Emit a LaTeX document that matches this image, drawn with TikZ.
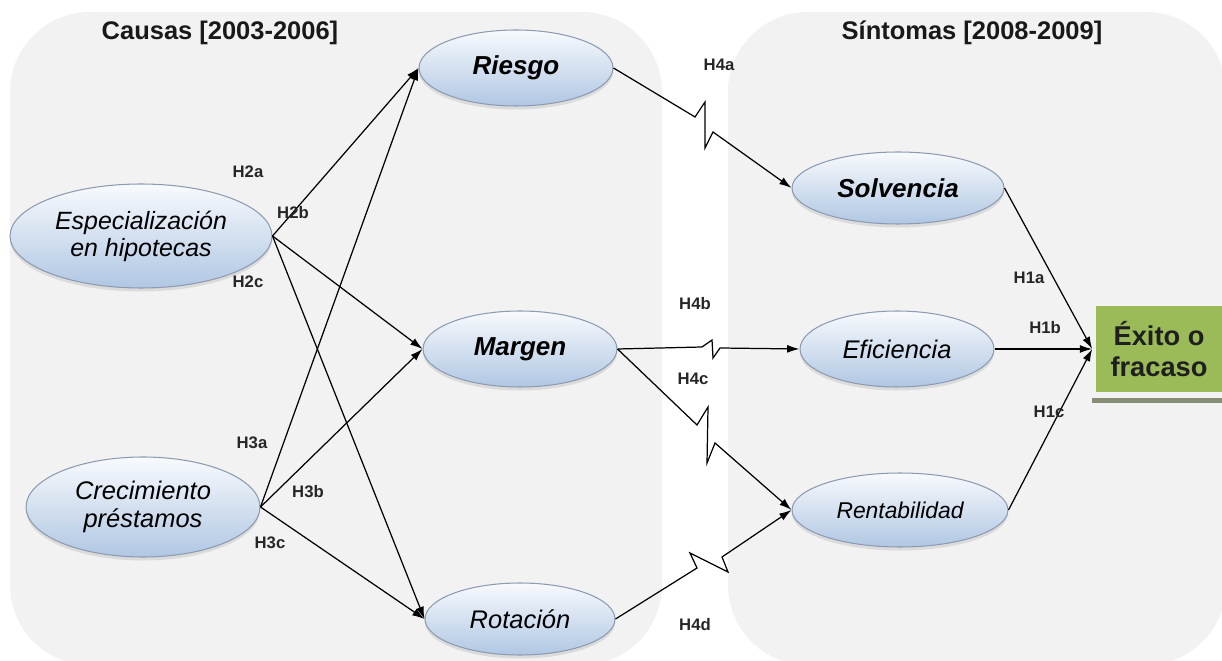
\documentclass[tikz,border=0pt]{standalone}
\usepackage{fontspec}
\setmainfont{Liberation Sans}
\usetikzlibrary{arrows.meta,shapes.geometric,shadows}
\definecolor{panel}{RGB}{242,242,242}
\definecolor{elltop}{RGB}{248,250,253}
\definecolor{ellbot}{RGB}{176,199,227}
\definecolor{elldraw}{RGB}{140,155,178}
\definecolor{boxgreen}{RGB}{155,187,89}
\definecolor{boxshadow}{RGB}{135,142,118}
\begin{document}
\begin{tikzpicture}[x=0.02cm,y=-0.02cm,
  ell/.style={ellipse, inner sep=0pt, draw=elldraw, line width=0.6pt,
    top color=elltop, bottom color=ellbot, align=center,
    drop shadow={shadow xshift=0pt, shadow yshift=-2pt, opacity=0.2}},
  itreg/.style={font=\fontsize{14.5}{15.5}\selectfont\itshape},
  itbold/.style={font=\fontsize{14.8}{16}\selectfont\bfseries\itshape},
  arr/.style={-{Latex[length=7pt,width=4.5pt]}, line width=0.7pt},
  lab/.style={font=\fontsize{9.5}{11}\selectfont\bfseries, text=black!85},
  ttl/.style={font=\fontsize{14.5}{17}\selectfont\bfseries, text=black!90},
  resbox/.style={fill=boxgreen, minimum width=2.52cm, minimum height=1.72cm,
    inner sep=0pt, align=center, text=black!88,
    font=\fontsize{15.5}{17.5}\selectfont\bfseries}]
\useasboundingbox (0,0) rectangle (1222,661);
\clip (0,0) rectangle (1222,661);
\fill[white] (0,0) rectangle (1222,661);
% panels
\fill[panel, rounded corners=1.6cm] (10,12) rectangle (662,665);
\fill[panel, rounded corners=1.6cm] (728,12) rectangle (1226,665);
% titles
\node[ttl] (t1) at (220,33) {Causas [2003-2006]};
\node[ttl] (t2) at (972,33) {Síntomas [2008-2009]};
% ellipses
\node[ell, itreg, font=\fontsize{14.2}{15.4}\selectfont\itshape, minimum width=5.24cm, minimum height=2.08cm] (esp) at (141,236) {Especialización\\en hipotecas};
\node[ell, itreg, minimum width=4.68cm, minimum height=2.0cm] (cre) at (143,507) {Crecimiento\\préstamos};
\node[ell, itbold, minimum width=3.88cm, minimum height=1.52cm] (rie) at (516,68) {Riesgo};
\node[ell, itbold, minimum width=3.88cm, minimum height=1.52cm] (mar) at (520,349) {Margen};
\node[ell, itreg, minimum width=3.8cm, minimum height=1.44cm] (rot) at (520,619) {Rotación};
\node[ell, itbold, minimum width=4.24cm, minimum height=1.44cm] (sol) at (898,188) {Solvencia};
\node[ell, itreg, minimum width=3.88cm, minimum height=1.52cm] (efi) at (897,349) {Eficiencia};
\node[ell, itreg, font=\fontsize{13}{14}\selectfont\itshape, minimum width=4.32cm, minimum height=1.48cm] (ren) at (900,510) {Rentabilidad};
% result box with its shadow line
\fill[boxshadow] (1092,398) rectangle (1222,403);
\node[resbox] (exi) at (1159,349) {Éxito o\\fracaso};
% arrows causes -> intermediate
\draw[arr] (esp.east) -- (rie.west);
\draw[arr] (esp.east) -- (mar.west);
\draw[arr] (esp.east) -- (rot.west);
\draw[arr] (cre.east) -- (rie.west);
\draw[arr] (cre.east) -- (mar.west);
\draw[arr] (cre.east) -- (rot.west);
% zigzag arrows
\draw[arr, line join=miter] (rie.east) -- (695,117) -- (705,102) -- (705,148) -- (713,132) -- (sol.west);
\draw[arr, line join=miter] (mar.east) -- (702,347) -- (712,340) -- (713,358) -- (720,348) -- (efi.west);
\draw[arr, line join=miter] (mar.east) -- (697,425) -- (708,407) -- (707,463) -- (715,443) -- (ren.west);
\draw[arr, line join=miter] (rot.east) -- (697,568) -- (690,553) -- (728,572) -- (722,557) -- (ren.west);
% arrows to result
\draw[arr] (sol.east) -- ([xshift=-2pt]exi.west);
\draw[arr] (efi.east) -- ([xshift=-2pt]exi.west);
\draw[arr] (ren.east) -- ([xshift=-2pt]exi.west);
% labels
\node[lab] (h2a) at (248,172) {H2a};
\node[lab] (h2b) at (293,213) {H2b};
\node[lab] (h2c) at (248,282) {H2c};
\node[lab] (h3a) at (252,443) {H3a};
\node[lab] (h3b) at (308,492) {H3b};
\node[lab] (h3c) at (270,543) {H3c};
\node[lab] (h4a) at (719,65) {H4a};
\node[lab] (h4b) at (695,304) {H4b};
\node[lab] (h4c) at (693,379) {H4c};
\node[lab] (h4d) at (695,625) {H4d};
\node[lab] (h1a) at (1029,278) {H1a};
\node[lab] (h1b) at (1045,328) {H1b};
\node[lab] (h1c) at (1049,412) {H1c};
\end{tikzpicture}
\end{document}
